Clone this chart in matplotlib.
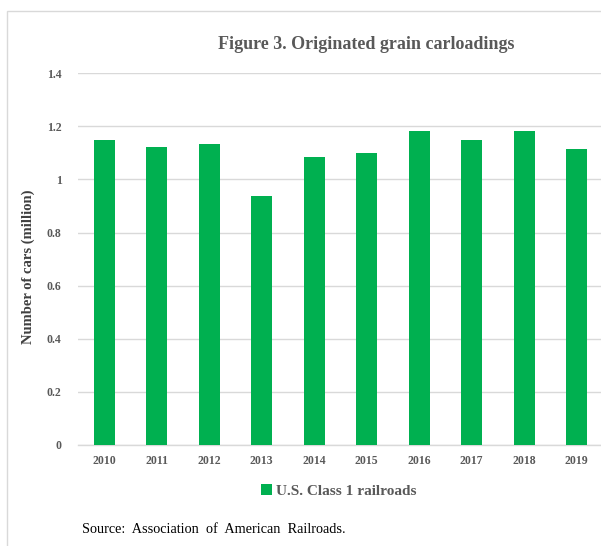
import matplotlib.pyplot as plt
from matplotlib.patches import Rectangle

# Originated grain carloadings, U.S. Class 1 railroads (million cars)
years = ['2010', '2011', '2012', '2013', '2014', '2015', '2016', '2017', '2018', '2019']
carloads = [1.150, 1.122, 1.133, 0.937, 1.086, 1.101, 1.183, 1.150, 1.183, 1.114]
yticks = [0, 0.2, 0.4, 0.6, 0.8, 1.0, 1.2, 1.4]
ytick_labels = ['0', '0.2', '0.4', '0.6', '0.8', '1', '1.2', '1.4']

green = '#00B050'
grid_gray = '#D9D9D9'
text_gray = '#595959'
serif = ['Liberation Serif', 'DejaVu Serif']

fig = plt.figure(figsize=(6.01, 5.46), dpi=100)
ax = fig.add_axes([0.13, 0.185, 0.873, 0.681])

ind = range(len(years))
ax.bar(ind, carloads, 0.4, color=green, zorder=3, label='U.S. Class 1 railroads')
ax.set_xlim(-0.5, len(years) - 0.5)
ax.set_ylim(0, 1.4)

ax.set_yticks(yticks)
ax.set_yticklabels(ytick_labels)
ax.set_xticks(ind)
ax.set_xticklabels(years)
ax.yaxis.grid(True, color=grid_gray, linewidth=1.0, zorder=0)
ax.tick_params(axis='both', length=0, colors=text_gray)
ax.tick_params(axis='y', pad=12)
ax.tick_params(axis='x', pad=7)
for lab in ax.get_xticklabels() + ax.get_yticklabels():
    lab.set_family(serif)
    lab.set_fontweight('bold')
    lab.set_fontsize(8.5)

for side in ['top', 'right', 'left']:
    ax.spines[side].set_visible(False)
ax.spines['bottom'].set_color(grid_gray)
ax.spines['bottom'].set_linewidth(1.0)

ax.set_ylabel('Number of cars (million)', family=serif, fontweight='bold',
              fontsize=10.5, color='#404040')
ax.yaxis.set_label_coords(-0.082, 0.48)

fig.text(0.609, 0.919, 'Figure 3. Originated grain carloadings', family=serif,
         fontweight='bold', fontsize=13, color=text_gray, ha='center', va='center')

ax.legend(loc='center', bbox_to_anchor=(0.497, -0.124), frameon=False,
          prop={'family': serif, 'weight': 'bold', 'size': 11},
          labelcolor=text_gray, handlelength=0.7, handleheight=0.7, handletextpad=0.3)

fig.text(0.137, 0.031, 'Source:  Association  of  American  Railroads.', family=serif,
         fontsize=10.3, color='black', ha='left', va='center')

# light border round the chart area
fig.add_artist(Rectangle((7 / 601, -0.1), 1.2, 1 - 11 / 546 + 0.1, transform=fig.transFigure,
                         fill=False, edgecolor=grid_gray, linewidth=1.0))

plt.savefig('out.png', dpi=100)
plt.close(fig)
